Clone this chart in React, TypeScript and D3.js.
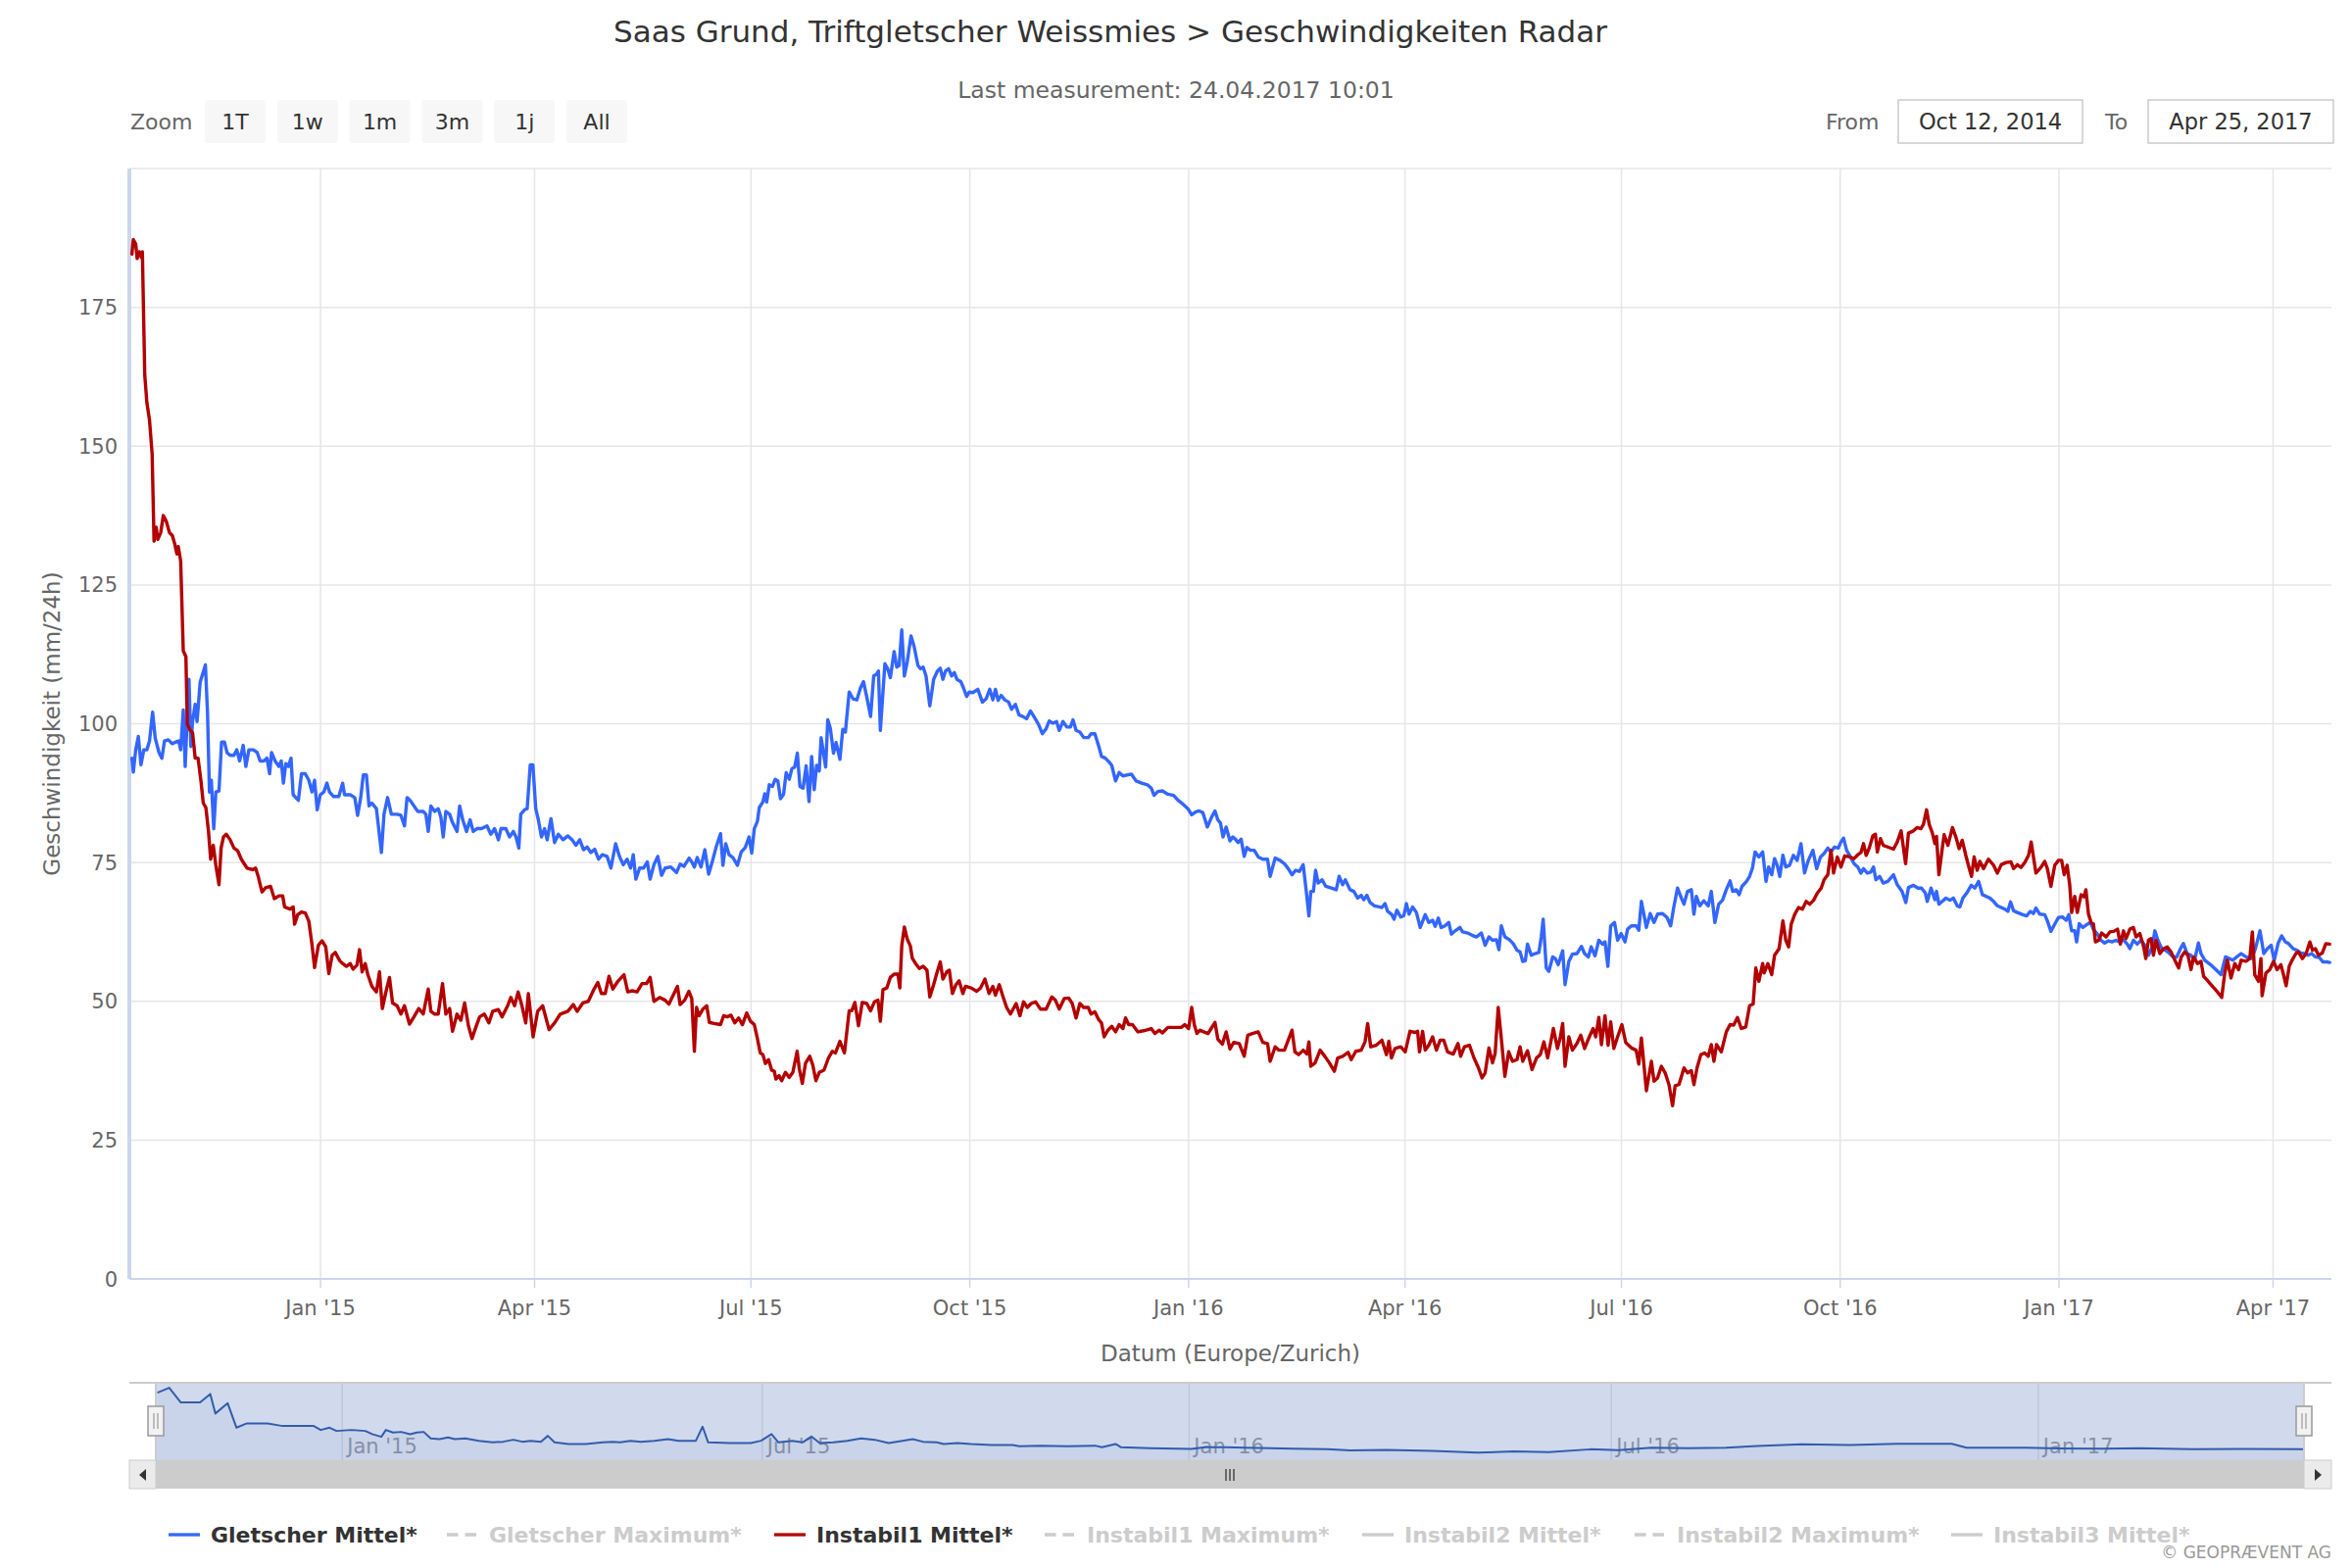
import React from "react";
import * as d3 from "d3";

// ---------- DATA ----------
// x values are days since 2015-01-01 (fractional = time of day), y values in mm/24h
const gletscherMittel: [number, number][] = [
[-79.3,93.8],[-78.7,91.3],[-77.7,95.3],[-76.6,97.7],[-75.5,92.6],[-74.3,95.3],[-73.0,95.3],[-71.9,96.9],[-70.6,102.1],[-69.5,97.4],[-67.9,94.8],[-66.7,93.8],[-65.6,96.9],[-64.0,97.1],[-62.4,96.4],[-60.9,96.7],[-59.6,96.9],[-58.8,95.3],[-57.7,102.5],[-56.9,92.3],[-56.1,100.4],[-55.3,108.0],[-54.5,95.9],[-53.8,100.4],[-52.7,103.5],[-51.9,100.4],[-50.6,107.5],[-49.3,109.3],[-48.4,110.6],[-47.5,101.9],[-46.7,87.7],[-45.9,89.8],[-44.9,81.1],[-44.0,87.7],[-42.7,87.9],[-41.6,96.7],[-40.4,96.7],[-39.3,94.8],[-38.0,94.3],[-36.4,94.3],[-35.2,95.3],[-34.0,93.3],[-32.5,96.1],[-31.4,92.3],[-30.1,95.3],[-28.2,95.3],[-26.6,94.8],[-25.4,93.3],[-23.8,93.3],[-22.5,93.8],[-21.4,91.0],[-20.6,94.8],[-19.1,93.3],[-17.5,92.3],[-16.5,93.3],[-15.6,89.3],[-14.6,92.8],[-13.5,92.3],[-12.4,93.8],[-11.5,87.2],[-10.4,86.7],[-9.3,86.2],[-8.0,91.0],[-6.4,91.0],[-4.9,89.8],[-3.6,87.7],[-2.5,89.8],[-1.4,84.5],[-0.1,87.2],[1.4,87.7],[2.7,89.3],[3.8,87.7],[5.4,86.9],[7.7,86.9],[9.3,89.3],[10.1,87.2],[12.5,87.2],[14.4,86.7],[15.6,83.5],[16.9,86.7],[18.0,90.8],[19.3,90.8],[20.4,85.2],[21.6,85.7],[23.5,84.7],[24.6,80.6],[25.6,76.8],[26.7,83.7],[28.2,86.7],[29.8,83.7],[32.2,83.7],[33.8,83.5],[35.3,81.6],[36.4,86.7],[37.7,86.2],[39.3,85.2],[40.9,84.2],[43.2,84.2],[44.3,83.7],[45.3,80.6],[46.4,85.2],[48.0,84.2],[49.5,84.7],[50.6,83.2],[51.6,79.6],[52.7,84.2],[54.3,83.7],[55.5,82.2],[57.4,80.6],[58.5,85.2],[59.8,82.7],[61.4,80.6],[62.9,82.7],[64.2,80.6],[65.8,81.1],[67.7,81.1],[70.0,81.6],[71.6,80.1],[73.2,81.1],[74.8,79.1],[75.9,81.1],[77.9,81.1],[79.5,79.6],[81.1,80.6],[82.2,79.6],[83.4,77.6],[84.2,83.7],[85.8,84.5],[86.9,84.7],[88.2,92.6],[89.3,92.6],[90.5,84.7],[91.6,82.7],[92.9,79.6],[94.2,81.1],[95.3,79.1],[96.9,82.9],[98.4,78.6],[100.0,80.1],[102.0,79.1],[104.0,79.8],[105.8,79.1],[107.4,78.1],[109.0,79.1],[110.6,77.3],[112.1,77.8],[113.7,76.8],[115.3,77.4],[116.9,75.6],[118.5,76.4],[120.5,76.1],[122.1,74.0],[124.1,78.4],[125.7,76.1],[127.3,74.6],[128.9,75.6],[130.4,74.0],[131.5,76.4],[132.6,72.0],[134.2,74.0],[135.8,74.0],[137.4,75.1],[138.6,72.0],[140.2,74.6],[141.8,76.1],[143.4,72.7],[144.9,74.0],[147.3,74.2],[149.7,73.2],[151.2,74.7],[152.8,74.3],
[155.0,75.8],[156.1,75.1],[157.2,74.2],[158.4,75.9],[160.0,74.2],[161.6,77.3],[163.2,72.9],[164.7,75.1],[166.3,77.7],[168.2,80.2],[169.2,74.5],[170.4,78.4],[171.8,76.4],[173.4,75.9],[175.3,74.5],[176.9,76.9],[178.6,77.7],[180.2,79.6],[181.3,76.7],[182.4,81.1],[183.7,82.4],[184.5,84.9],[186.0,85.9],[186.8,87.4],[187.6,85.9],[188.7,89.0],[190.0,88.7],[191.2,90.0],[192.3,89.7],[193.4,86.5],[194.7,87.3],[195.8,91.2],[197.1,90.0],[198.2,91.9],[199.4,92.2],[200.5,94.7],[201.6,88.7],[202.9,88.4],[204.2,92.4],[205.4,86.0],[206.5,94.1],[207.6,88.1],[208.6,92.5],[209.7,91.5],[210.5,97.5],[212.4,92.2],[213.3,100.7],[214.4,99.1],[215.7,94.7],[216.8,96.6],[218.4,93.6],[219.6,99.0],[220.7,98.5],[222.3,105.7],[223.9,104.5],[225.5,104.3],[227.0,106.4],[228.3,107.6],[229.7,104.8],[231.3,101.3],[232.6,108.6],[233.8,108.9],[234.6,109.5],[235.4,98.8],[237.3,110.8],[238.5,109.9],[239.6,108.3],[241.2,113.0],[242.3,110.2],[243.3,110.5],[244.4,116.9],[245.5,108.6],[246.7,111.1],[248.3,115.8],[249.6,113.9],[251.2,110.5],[252.3,109.9],[253.4,110.2],[254.6,108.6],[256.2,103.2],[257.8,108.0],[259.4,109.5],[260.6,110.0],[261.7,108.0],[262.8,109.5],[264.1,109.9],[265.4,108.6],[266.5,109.2],[267.6,108.0],[269.2,107.6],[270.4,106.4],[271.7,104.9],[272.8,105.7],[274.3,105.6],[276.4,106.2],[278.3,103.9],[279.9,104.5],[281.4,106.2],[282.7,104.3],[283.8,106.2],[284.9,104.2],[286.2,105.1],[287.7,104.3],[289.3,103.9],[290.6,102.6],[292.2,103.5],[293.7,101.6],[295.3,101.3],[296.9,100.9],[298.5,102.3],[300.4,101.0],[302.0,99.8],[303.5,98.2],[305.1,99.1],[306.4,100.5],[307.9,100.1],[309.5,100.4],[310.6,98.8],[312.2,100.4],[313.8,99.4],[315.3,99.4],[316.4,100.7],[317.7,98.8],[319.3,98.5],[320.9,97.5],[322.8,97.5],[324.0,98.2],[325.6,98.2],[327.2,96.0],[328.4,94.1],[330.0,93.8],[331.6,93.1],[332.7,92.5],[334.3,89.7],[335.8,91.2],[337.4,90.6],[339.5,90.8],[341.0,90.9],[342.9,89.7],[345.3,89.3],[347.7,89.0],[349.3,88.4],[350.5,87.1],[352.1,87.8],[354.0,87.9],[356.3,87.3],[358.7,87.1],[360.6,86.2],[362.7,85.5],[364.7,84.7],[366.3,83.6],[367.9,84.1],[369.4,84.3],[371.0,84.0],[372.9,81.4],[374.5,83.0],[376.1,84.3],[377.3,82.7],[378.4,82.1],[379.5,79.6],[380.8,81.4],[382.4,78.9],[383.6,79.6],[384.7,79.2],[385.8,78.6],[387.1,79.2],[388.4,76.1],[389.5,77.7],[391.0,77.2],[392.6,77.2],
[394.3,76.0],[396.2,75.6],[398.2,75.6],[399.3,72.5],[401.4,75.8],[403.4,75.4],[405.3,74.8],[406.9,73.9],[408.5,72.8],[410.0,73.6],[411.6,73.4],[413.2,74.6],[414.5,69.8],[415.6,65.4],[416.4,69.8],[417.5,69.8],[418.4,73.6],[419.5,71.3],[421.1,71.9],[422.7,70.7],[425.0,70.4],[427.1,70.1],[428.3,72.5],[429.8,71.0],[430.9,71.9],[432.9,70.1],[434.5,69.8],[436.1,68.6],[437.6,69.1],[438.7,68.3],[440.0,69.1],[441.3,67.8],[443.2,67.2],[445.1,67.0],[446.3,66.9],[447.6,67.6],[448.7,66.2],[450.3,65.7],[451.4,64.8],[452.6,66.4],[454.2,65.2],[455.5,65.4],[456.6,67.6],[457.7,65.7],[459.2,67.0],[460.8,66.0],[462.4,63.3],[464.5,65.6],[466.0,64.2],[467.6,64.6],[468.7,63.5],[470.0,65.0],[471.2,63.3],[472.8,63.6],[474.4,64.2],[475.5,62.1],[477.1,62.7],[479.1,63.3],[480.2,62.5],[482.3,62.3],[484.2,61.9],[486.1,61.6],[488.1,62.3],[489.7,60.1],[491.3,61.6],[492.8,61.0],[494.4,61.1],[495.5,59.3],[496.5,63.6],[498.0,61.6],[499.9,61.1],[501.5,60.4],[503.1,59.2],[504.4,58.9],[505.5,57.2],[506.6,57.3],[507.5,60.3],[509.1,58.3],[510.7,58.6],[512.3,58.8],[513.3,61.6],[514.1,64.8],[515.4,56.0],[516.5,55.4],[518.1,58.0],[519.2,57.7],[520.4,56.6],[522.3,59.1],[523.3,53.0],[524.9,57.2],[526.4,58.5],[528.3,58.6],[530.2,59.9],[531.5,58.6],[533.1,58.0],[534.3,59.8],[535.9,58.2],[537.5,61.0],[539.0,60.3],[540.1,60.7],[541.3,56.3],[542.5,63.6],[544.1,64.2],[545.4,61.0],[546.9,62.2],[548.5,60.7],[549.6,63.0],[551.2,63.6],[553.2,63.6],[554.3,62.8],[555.4,68.0],[557.5,63.3],[559.1,65.8],[560.7,64.2],[562.2,65.7],[564.3,65.8],[566.2,65.1],[567.7,63.6],[569.0,66.9],[570.6,70.4],[572.2,68.6],[573.3,67.5],[574.8,69.8],[576.4,70.1],[577.5,65.7],[578.5,68.9],[580.0,67.2],[581.6,68.1],[583.5,67.2],[584.8,69.8],[586.3,64.2],[587.9,67.5],[589.5,68.2],[591.1,70.1],[592.7,71.7],[593.8,69.8],[595.3,70.1],[596.5,69.2],[597.7,70.7],[599.6,71.6],[600.9,72.5],[602.1,74.0],[603.2,76.9],[604.8,76.0],[606.4,76.9],
[607.8,71.6],[608.9,74.2],[610.2,72.8],[611.4,75.7],[612.5,74.5],[613.6,72.5],[614.9,76.3],[616.1,74.2],[617.7,74.5],[619.3,76.3],[620.9,75.4],[622.5,78.4],[624.0,73.1],[625.6,75.4],[627.5,77.2],[629.1,73.9],[630.7,76.0],[632.2,76.6],[633.8,77.6],[635.1,76.9],[636.6,77.8],[638.2,77.6],[639.3,78.7],[640.4,79.4],[641.7,77.2],[643.3,76.0],[644.8,74.8],[646.4,74.2],[647.7,73.1],[648.8,73.9],[650.4,73.1],[651.9,73.3],[653.0,74.2],[654.0,71.9],[655.6,72.5],[657.1,71.3],[659.0,71.6],[661.4,72.8],[663.0,71.0],[665.0,69.8],[666.6,67.8],[667.7,70.5],[669.8,70.9],[671.7,70.4],[673.2,70.4],[674.8,69.5],[675.6,68.0],[677.2,70.4],[678.8,68.3],[679.5,69.8],[680.5,67.5],[681.9,68.0],[683.5,68.6],[685.1,68.2],[686.6,68.6],[688.2,67.2],[689.3,67.0],[690.6,68.6],[692.2,69.5],[694.1,70.9],[695.6,70.4],[697.2,71.6],[698.8,69.2],[700.4,68.9],[701.9,68.6],[703.5,68.0],[705.1,67.2],[706.7,66.9],[708.2,66.6],[709.5,66.2],[710.6,67.9],[711.9,66.3],[713.5,66.0],[715.8,65.6],[717.4,65.4],[719.0,66.2],[720.2,65.8],[721.3,66.8],[722.9,65.7],[725.0,65.6],[726.1,64.5],[727.6,62.6],[729.2,63.9],[730.8,65.1],[732.4,65.2],[734.0,64.6],[735.1,65.6],[736.3,62.7],[737.6,62.7],[738.4,60.7],[739.5,64.0],[741.0,63.3],[742.6,63.8],[744.2,64.2],[745.5,62.9],[747.0,62.2],[748.6,61.0],[750.2,60.5],[751.8,60.9],[753.3,60.7],[754.9,61.0],[756.5,60.7],[758.1,61.1],[759.7,60.3],[760.8,59.5],[762.3,61.0],[763.9,60.3],[765.5,61.0],[767.1,60.1],[768.6,58.3],[770.2,59.8],[771.3,62.7],[772.6,61.0],[774.2,59.5],[775.7,59.2],[777.3,58.7],[778.9,58.0],[780.5,58.0],[782.1,59.5],[783.3,60.4],[784.9,58.6],[786.5,58.3],[788.0,57.4],[789.6,60.5],[790.7,58.6],[792.3,57.4],[794.7,56.6],[797.0,55.7],[799.1,54.8],[801.0,58.0],[802.6,57.7],[804.1,57.4],[805.7,58.0],[807.6,58.6],[809.6,58.0],[812.0,57.7],[813.6,59.5],[815.5,62.7],[817.1,58.6],[818.6,59.5],[820.2,60.1],[821.5,57.4],[823.1,60.4],[824.6,61.8],[826.2,60.7],[827.5,60.4],[829.4,59.5],[831.0,59.2],[832.5,58.7],[834.1,58.6],[835.7,58.3],[837.2,58.6],[838.8,58.0],[840.4,57.9],[842.0,57.1],[843.6,57.1],[844.8,57.0]
];

const instabil1Mittel: [number, number][] = [
[-79.3,184.6],[-78.7,187.2],[-77.7,186.4],[-77.1,183.8],[-76.2,185.0],[-75.2,183.9],[-74.9,185.0],[-73.9,162.8],[-73.0,157.8],[-71.9,154.7],[-70.8,148.6],[-70.0,132.9],[-69.1,135.4],[-68.4,133.2],[-67.2,134.4],[-66.1,137.5],[-64.8,136.4],[-63.5,134.4],[-62.3,133.9],[-61.3,132.4],[-60.4,130.6],[-59.8,131.9],[-58.8,129.3],[-57.7,113.1],[-56.6,112.1],[-56.0,99.9],[-54.9,98.9],[-53.8,98.4],[-52.7,93.8],[-51.5,93.8],[-50.3,89.8],[-49.3,85.7],[-48.2,84.9],[-47.1,80.6],[-46.2,75.6],[-45.1,78.1],[-44.0,74.5],[-42.7,71.0],[-41.8,77.6],[-40.8,79.6],[-39.6,80.1],[-38.0,79.1],[-36.4,77.6],[-34.8,77.1],[-33.3,75.6],[-30.9,74.0],[-28.5,73.7],[-27.3,74.0],[-26.2,72.5],[-24.6,69.7],[-23.0,70.5],[-21.0,70.7],[-19.4,68.5],[-17.5,69.0],[-15.9,69.0],[-15.1,67.0],[-12.8,66.6],[-11.5,67.0],[-10.9,63.9],[-9.6,65.6],[-8.0,66.1],[-6.4,65.9],[-4.9,64.4],[-3.6,60.3],[-2.5,56.1],[-0.9,60.1],
[0.65,60.9],[2.2,59.8],[3.5,55.0],[4.9,58.3],[6.2,58.8],[8.1,57.3],[9.3,56.8],[10.9,56.3],[12.5,56.8],[13.7,55.8],[15.3,56.5],[16.4,59.3],[17.5,55.3],[18.8,56.8],[19.9,54.8],[21.6,52.7],[23.5,51.7],[24.8,55.3],[26.0,48.7],[27.5,51.7],[29.0,54.3],[30.3,49.7],[32.2,49.2],[33.8,47.7],[35.3,49.2],[37.4,45.9],[39.3,47.2],[41.3,48.7],[43.2,47.7],[45.3,52.2],[46.4,48.2],[48.0,47.7],[49.5,47.7],[51.3,53.2],[52.7,47.7],[54.3,48.7],[55.5,44.6],[57.4,47.7],[59.0,46.6],[60.6,49.7],[62.2,45.6],[63.7,43.3],[65.3,45.3],[66.9,47.2],[68.9,47.7],[70.8,46.1],[72.4,48.2],[74.8,48.5],[76.3,47.2],[78.7,49.2],[80.0,50.7],[81.6,49.2],[83.1,51.7],[84.7,49.2],[86.3,46.1],[87.4,51.4],[89.4,43.6],[91.3,48.2],[93.4,49.2],[96.1,44.9],[98.4,46.1],[100.8,47.7],[104.0,48.2],[106.3,49.4],[107.9,48.2],[110.3,49.7],[112.6,50.0],[115.0,52.2],[116.6,53.4],[118.1,51.4],[119.7,51.4],[121.3,54.5],[122.9,52.2],[125.2,53.7],[127.6,54.8],[129.2,51.7],[131.1,51.9],[133.1,51.7],[135.2,53.2],[137.1,53.2],[138.6,54.3],[140.2,50.0],[142.6,50.7],[144.9,50.2],[146.5,49.5],[148.4,51.2],[150.1,52.7],[151.2,49.4],[153.1,50.2],
[154.9,51.8],[156.1,50.5],[157.2,41.0],[158.1,48.9],[159.2,47.4],[160.8,48.6],[162.4,49.2],[163.5,46.2],[165.5,46.0],[168.2,45.8],[169.5,47.4],[171.0,47.2],[172.6,47.5],[174.2,46.1],[175.8,47.0],[177.4,45.8],[179.2,47.9],[180.8,46.4],[182.4,45.8],[183.7,43.3],[184.9,40.7],[186.0,40.4],[187.1,38.8],[188.4,39.5],[189.7,37.6],[190.8,37.4],[191.5,36.0],[192.8,36.6],[193.9,35.7],[195.5,37.2],[197.1,36.3],[198.6,37.2],[200.4,41.0],[201.3,37.9],[202.6,35.2],[203.9,38.8],[205.7,40.1],[207.0,38.5],[208.3,35.7],[209.7,37.2],[211.7,37.6],[213.6,39.8],[215.2,41.0],[216.5,40.7],[218.4,42.8],[220.3,40.7],[222.3,48.3],[223.4,48.3],[224.7,49.8],[226.2,45.6],[227.8,49.8],[229.7,49.6],[231.3,48.3],[232.9,49.9],[234.4,50.2],[235.4,46.4],[236.5,52.1],[238.1,52.4],[239.6,54.3],[241.2,54.9],[242.8,54.9],[243.6,52.4],[244.4,60.0],[245.5,63.4],[246.7,61.2],[248.0,60.0],[248.8,57.8],[250.2,56.8],[251.8,55.9],[253.4,56.3],[255.0,55.6],[256.2,50.8],[257.8,53.0],[259.3,55.3],[260.6,57.1],[261.7,54.0],[263.3,55.3],[264.4,55.6],[265.7,51.4],[267.2,53.0],[268.5,53.7],[270.1,51.4],[271.2,52.7],[273.6,52.4],[275.9,51.8],[277.5,52.4],[279.4,54.0],[281.1,51.4],[282.7,52.7],[283.8,51.1],[285.4,53.0],[287.0,50.8],[288.5,48.9],[290.1,47.7],[292.5,49.6],[294.1,47.4],[295.6,49.9],[297.2,48.9],[298.8,49.6],[300.7,49.9],[302.7,48.6],[305.1,48.6],[307.5,50.8],[309.0,50.2],[310.6,48.6],[312.7,50.5],[314.6,50.6],[316.1,49.6],[317.7,47.0],[319.3,49.6],[320.9,48.9],[322.8,48.9],[324.0,47.7],[325.6,48.1],[327.2,46.7],[328.4,46.1],[329.5,43.6],[331.1,44.8],[332.7,45.5],[334.3,44.5],[335.8,45.8],[337.4,45.1],[338.5,47.0],[339.8,45.8],[341.4,45.8],[343.7,44.5],[346.1,44.7],[349.3,45.1],[350.8,44.2],[352.7,44.8],[354.0,44.3],[356.3,45.3],[358.7,45.3],[361.9,45.3],[363.4,45.8],[365.0,45.1],[366.3,48.9],[367.4,45.8],[368.5,44.2],[369.8,44.8],[371.3,44.5],[373.2,44.2],[374.5,45.1],[376.1,46.2],[377.3,43.2],[379.2,42.3],[380.8,44.5],[382.4,41.4],[384.0,42.6],[386.3,42.4],[388.4,40.1],[389.9,43.9],[391.8,44.2],
[394.3,44.5],[396.2,42.6],[398.2,42.4],[399.3,39.2],[401.4,41.8],[403.0,41.2],[405.3,41.2],[406.9,43.0],[408.5,44.8],[409.7,40.9],[411.3,40.4],[413.2,41.2],[414.8,40.5],[415.6,42.7],[416.4,38.3],[418.2,38.9],[420.3,41.2],[422.3,40.1],[424.2,38.9],[426.3,37.4],[427.7,39.8],[429.8,40.1],[432.1,40.8],[433.4,39.5],[435.3,41.0],[437.6,41.2],[439.2,42.7],[440.3,46.0],[441.6,41.8],[443.9,42.1],[446.3,43.0],[448.2,40.4],[449.2,42.8],[450.3,39.8],[451.8,41.5],[454.2,41.8],[456.1,40.9],[458.1,44.6],[460.2,44.4],[461.3,44.6],[462.1,40.9],[463.4,44.6],[464.5,41.2],[466.0,42.1],[467.6,43.6],[469.2,41.2],[470.8,43.0],[472.3,43.0],[473.9,40.9],[476.3,40.5],[478.3,42.4],[479.4,40.1],[481.0,41.8],[483.1,42.1],[485.0,39.8],[486.9,38.0],[488.4,36.2],[489.7,37.1],[491.3,41.6],[492.8,38.9],[493.9,40.6],[495.2,48.9],[496.5,43.3],[498.0,36.5],[499.6,40.9],[501.2,39.2],[503.1,39.5],[504.4,41.8],[505.5,39.2],[507.5,41.1],[509.4,37.7],[511.3,39.8],[512.9,40.4],[514.4,42.7],[516.0,39.8],[518.4,45.1],[520.1,41.5],[521.2,43.3],[522.3,46.0],[523.3,38.3],[524.9,43.6],[526.4,41.2],[528.3,42.4],[529.9,43.9],[531.5,41.5],[533.5,43.6],[535.1,45.1],[536.2,43.6],[537.5,47.1],[538.6,42.2],[540.1,47.4],[541.4,42.1],[542.5,46.3],[543.8,41.5],[545.4,43.6],[547.2,45.8],[548.8,42.6],[551.2,41.6],[553.2,41.2],[554.3,38.7],[555.4,43.4],[557.5,33.9],[559.6,39.2],[560.7,35.6],[562.2,36.2],[563.8,38.3],[565.4,37.1],[567.0,35.0],[568.5,31.2],[569.6,34.8],[571.2,35.0],[573.3,38.0],[574.8,37.1],[576.4,37.5],[577.5,35.0],[578.8,38.0],[580.4,40.4],[582.0,40.7],[583.5,40.1],[584.8,42.2],[585.9,39.2],[587.0,42.2],[589.0,40.9],[591.1,44.5],[592.7,45.8],[594.2,45.7],[595.8,47.1],[597.4,45.1],[599.3,45.4],[600.9,49.2],[602.4,49.5],[603.5,56.0],[604.8,53.6],[606.4,56.8],
[607.0,55.1],[608.6,56.8],[610.2,54.8],[611.4,58.3],[613.3,59.5],[614.9,64.5],[616.1,61.0],[617.3,59.8],[618.4,63.9],[619.9,65.7],[621.5,66.9],[623.1,66.6],[624.7,68.0],[626.2,67.5],[627.8,68.2],[629.4,69.5],[631.0,70.4],[632.2,71.9],[633.8,72.8],[635.1,77.2],[636.2,73.1],[637.8,76.0],[639.3,74.2],[640.9,76.2],[643.0,76.0],[644.8,75.7],[646.4,76.4],[647.7,76.8],[648.8,78.4],[649.9,76.3],[651.2,77.6],[652.7,79.8],[653.8,80.1],[654.6,76.9],[655.9,79.3],[657.1,78.1],[659.0,77.8],[661.4,77.4],[663.0,78.7],[664.6,80.7],[666.5,74.8],[667.7,80.3],[669.8,80.7],[671.3,81.3],[672.9,81.1],[674.0,81.9],[675.3,84.5],[676.4,81.9],[677.7,80.4],[678.8,78.4],[679.5,79.7],[680.5,72.8],[681.9,77.5],[682.7,80.0],[684.3,78.1],[686.2,81.3],[687.7,79.5],[689.0,77.5],[690.3,79.0],[691.8,76.3],[692.9,74.5],[694.2,72.5],[695.3,76.0],[696.6,73.6],[697.7,75.2],[699.3,73.9],[701.3,75.6],[703.5,74.5],[705.1,73.1],[706.7,74.6],[708.7,75.0],[710.8,75.1],[711.9,73.9],[713.5,74.6],[715.0,74.1],[716.6,75.0],[718.2,76.3],[719.3,78.7],[721.3,73.1],[723.4,74.1],[725.0,75.2],[726.1,73.9],[727.6,70.7],[729.2,74.5],[730.8,75.4],[732.1,75.4],[733.2,72.8],[734.4,74.5],[735.5,71.0],[736.3,66.0],[737.6,68.9],[738.7,66.0],[740.3,69.2],[741.5,68.8],[742.3,70.1],[743.4,65.7],[744.5,64.2],[745.5,63.9],[746.3,60.7],[747.7,61.0],[748.9,62.3],[750.8,61.6],[752.4,62.5],[754.0,62.6],[755.6,63.0],[756.8,60.3],[758.1,62.7],[759.2,61.3],[760.8,63.0],[762.3,63.3],[763.4,61.6],[765.0,62.2],[766.6,59.8],[767.5,57.7],[768.6,61.0],[769.7,61.3],[770.7,58.3],[771.8,61.0],[773.4,58.6],[775.0,59.5],[776.5,59.8],[778.1,58.9],[779.7,57.4],[781.3,56.0],[782.4,58.0],[783.9,58.9],[785.2,58.3],[786.5,55.7],[787.6,58.0],[789.2,56.8],[790.7,57.2],[791.8,54.5],[793.1,53.9],[795.5,52.7],[797.8,51.6],[799.4,50.7],[800.7,55.1],[801.8,57.4],[803.3,54.2],[804.9,56.8],[806.5,55.7],[807.6,57.4],[809.6,57.2],[811.2,57.7],[812.3,62.5],[813.3,54.8],[814.9,53.6],[815.9,57.7],[816.4,51.0],[818.0,55.1],[819.6,55.7],[821.2,57.2],[822.7,55.7],[824.3,56.6],[825.4,54.8],[826.5,52.8],[827.8,56.3],[829.0,57.4],[830.6,58.6],[831.7,58.9],[833.3,57.7],[834.9,58.6],[836.5,60.7],[837.6,59.2],[838.8,59.5],[840.1,58.3],[841.7,58.7],[843.2,60.4],[844.8,60.3]
];

// navigator (overview) series
const navigatorSeries: [number, number][] = [
[-79.7,161.9],[-74.6,170.9],[-69.6,143.9],[-61.3,143.9],[-56.9,159.5],[-54.7,123.6],[-49.4,142.6],[-45.6,97.7],[-41.1,105.6],[-32.2,105.6],[-25.7,100.7],[-12.3,100.7],[-9.3,93.5],[-5.5,97.7],[-2.5,91.7],[4.0,93.5],[9.9,91.7],[12.9,85.8],[16.8,80.9],[18.8,93.5],[21.8,88.7],[25.4,89.9],[29.2,85.8],[32.1,88.7],[35.1,89.9],[38.1,77.9],[41.9,76.8],[45.6,79.7],[48.5,76.8],[53.0,77.9],[58.9,73.7],[64.8,70.7],[69.3,71.9],[73.7,75.5],[77.6,71.9],[81.1,73.7],[85.6,71.9],[88.6,82.7],[91.5,70.7],[97.5,67.8],[104.9,67.8],[112.3,70.7],[116.8,71.9],[119.7,70.7],[124.2,73.7],[128.6,71.9],[134.5,73.7],[140.4,76.8],[145.0,73.7],[152.4,73.7],[155.3,99.5],[157.7,70.7],[167.2,69.6],[176.1,69.6],[180.5,73.7],[185.0,85.8],[188.0,70.7],[193.9,73.7],[198.4,70.7],[202.2,81.5],[205.8,69.6],[211.7,70.7],[217.6,73.7],[223.6,77.9],[229.5,75.5],[235.5,69.6],[241.4,73.7],[245.9,76.8],[250.3,71.9],[256.2,70.7],[259.2,67.8],[265.1,69.6],[271.1,67.8],[280.0,66.0],[288.9,66.0],[291.9,63.5],[300.8,64.7],[312.6,63.5],[324.5,64.7],[327.4,61.7],[333.3,67.8],[335.7,61.7],[348.1,59.9],[366.0,58.8],[371.8,61.7],[380.3,61.7],[395.0,60.5],[410.0,59.2],[424.7,58.0],[434.4,56.0],[450.0,57.0],[470.0,55.0],[489.4,52.0],[505.0,54.0],[520.0,53.0],[538.1,58.0],[550.0,56.5],[564.3,61.0],[580.0,60.0],[596.4,61.0],[610.0,64.0],[629.0,67.0],[650.0,66.0],[670.0,68.0],[693.7,68.0],[700.1,61.0],[725.9,61.0],[740.0,59.5],[758.5,59.0],[775.0,60.0],[797.4,58.0],[820.0,58.5],[846.0,58.0]
];

const yTicks = [0, 25, 50, 75, 100, 125, 150, 175, 200];
const xTickDates = ["2015-01-01","2015-04-01","2015-07-01","2015-10-01","2016-01-01","2016-04-01","2016-07-01","2016-10-01","2017-01-01","2017-04-01"];
const xTickLabels = ["Jan '15","Apr '15","Jul '15","Oct '15","Jan '16","Apr '16","Jul '16","Oct '16","Jan '17","Apr '17"];
const navTickDates = ["2015-01-01","2015-07-01","2016-01-01","2016-07-01","2017-01-01"];
const navTickLabels = ["Jan '15","Jul '15","Jan '16","Jul '16","Jan '17"];
const zoomButtons = ["1T", "1w", "1m", "3m", "1j", "All"];
const legendNames = ["Gletscher Mittel*","Gletscher Maximum*","Instabil1 Mittel*","Instabil1 Maximum*","Instabil2 Mittel*","Instabil2 Maximum*","Instabil3 Mittel*"];
const legendVisible = [true, false, true, false, false, false, false];
const legendDashed = [false, true, false, true, false, true, false];

const TITLE = "Saas Grund, Triftgletscher Weissmies > Geschwindigkeiten Radar";
const SUBTITLE = "Last measurement: 24.04.2017 10:01";
const FROM_DATE = "Oct 12, 2014";
const TO_DATE = "Apr 25, 2017";

// ---------- LAYOUT / STYLE ----------
const W = 2400, H = 1600;
const PL = 132, PR = 2379, PT = 172, PB = 1305;
const NL = 159, NR = 2351, NT = 1411, NB = 1490;
const FONT = "'DejaVu Sans', 'Lucida Grande', Verdana, sans-serif";
const BLUE = "#3366ff";
const RED = "#b30000";
const legendX = [172, 456, 790, 1066, 1390, 1668, 1991];
const legendColors = [BLUE, "#cccccc", RED, "#cccccc", "#cccccc", "#cccccc", "#cccccc"];

const DAY0 = Date.UTC(2015, 0, 1);
const toDate = (d: number) => new Date(DAY0 + d * 86400000);
const parse = (s: string) => new Date(s + "T00:00:00Z");

export default function App() {
  const x = d3.scaleUtc()
    .domain([new Date(Date.UTC(2014, 9, 12, 15)), new Date(Date.UTC(2017, 3, 25, 13))])
    .range([PL, PR]);
  const y = d3.scaleLinear().domain([0, 200]).range([PB, PT]);
  const xn = d3.scaleUtc().domain(x.domain()).range([NL, NR]);
  const yn = d3.scaleLinear().domain([38, 180]).range([NB, NT]);

  const line = d3.line<[number, number]>()
    .x(d => x(toDate(d[0])))
    .y(d => y(d[1]));
  const navLine = d3.line<[number, number]>()
    .x(d => xn(toDate(d[0])))
    .y(d => yn(d[1]));
  const navArea = d3.area<[number, number]>()
    .x(d => xn(toDate(d[0])))
    .y0(NB)
    .y1(d => yn(d[1]));

  const btnX0 = 209, btnStep = 73.8, btnW = 62, btnY = 102, btnH = 44;

  return (
    <svg width={W} height={H} viewBox={`0 0 ${W} ${H}`}
      style={{ position: "absolute", left: 0, top: 0, background: "#fff", fontFamily: FONT }}>
      <defs>
        <clipPath id="plotClip">
          <rect x={PL} y={PT - 5} width={PR - PL} height={PB - PT + 5} />
        </clipPath>
        <clipPath id="navClip">
          <rect x={NL} y={NT} width={NR - NL} height={NB - NT} />
        </clipPath>
      </defs>
      <rect x={0} y={0} width={W} height={H} fill="#ffffff" />

      {/* Title & subtitle */}
      <text x={1133} y={43} textAnchor="middle" fontSize={31} fill="#333333">{TITLE}</text>
      <text x={1200} y={100} textAnchor="middle" fontSize={23.5} fill="#666666">{SUBTITLE}</text>

      {/* Range selector */}
      <text x={133} y={132} fontSize={22} fill="#666666">Zoom</text>
      {zoomButtons.map((b, i) => (
        <g key={b}>
          <rect x={btnX0 + i * btnStep} y={btnY} width={btnW} height={btnH} rx={3} fill="#f7f7f7" />
          <text x={btnX0 + i * btnStep + btnW / 2} y={132} textAnchor="middle" fontSize={22} fill="#333333">{b}</text>
        </g>
      ))}
      <text x={1863} y={132} fontSize={22} fill="#666666">From</text>
      <rect x={1937} y={btnY} width={188} height={btnH} fill="#ffffff" stroke="#cccccc" strokeWidth={1.5} />
      <text x={2031} y={132} textAnchor="middle" fontSize={22.5} fill="#333333">{FROM_DATE}</text>
      <text x={2148} y={132} fontSize={22} fill="#666666">To</text>
      <rect x={2192} y={btnY} width={189} height={btnH} fill="#ffffff" stroke="#cccccc" strokeWidth={1.5} />
      <text x={2286.5} y={132} textAnchor="middle" fontSize={22.5} fill="#333333">{TO_DATE}</text>

      {/* Grid */}
      {yTicks.filter(t => t > 0).map(t => (
        <line key={"gy" + t} x1={PL} x2={PR} y1={y(t)} y2={y(t)} stroke="#e6e6e6" strokeWidth={1.5} />
      ))}
      {xTickDates.map(d => (
        <line key={"gx" + d} x1={x(parse(d))} x2={x(parse(d))} y1={PT} y2={PB} stroke="#e6e6e6" strokeWidth={1.5} />
      ))}

      {/* Axes */}
      <rect x={PL - 2} y={PT} width={4} height={PB - PT} fill="#ccd6eb" />
      <line x1={PL} x2={PR} y1={PB} y2={PB} stroke="#ccd6eb" strokeWidth={2} />
      {xTickDates.map((d, i) => (
        <g key={"tx" + d}>
          <line x1={x(parse(d))} x2={x(parse(d))} y1={PB} y2={PB + 9} stroke="#ccd6eb" strokeWidth={1.5} />
          <text x={x(parse(d))} y={1342} textAnchor="middle" fontSize={21} fill="#666666">{xTickLabels[i]}</text>
        </g>
      ))}
      {yTicks.filter(t => t < 200).map(t => (
        <text key={"ty" + t} x={120} y={y(t) + 7.5} textAnchor="end" fontSize={21} fill="#666666">{t}</text>
      ))}
      <text transform={`translate(60.5, ${(PT + PB) / 2}) rotate(-90)`} textAnchor="middle" fontSize={23} fill="#666666">
        Geschwindigkeit (mm/24h)
      </text>
      <text x={(PL + PR) / 2} y={1389} textAnchor="middle" fontSize={23} fill="#666666">Datum (Europe/Zurich)</text>

      {/* Series */}
      <g clipPath="url(#plotClip)">
        <path d={line(gletscherMittel) || ""} fill="none" stroke={BLUE} strokeWidth={3.4} strokeLinejoin="round" strokeLinecap="round" />
        <path d={line(instabil1Mittel) || ""} fill="none" stroke={RED} strokeWidth={3.4} strokeLinejoin="round" strokeLinecap="round" />
      </g>

      {/* Navigator */}
      {navTickDates.map((d, i) => (
        <g key={"nx" + d}>
          <line x1={xn(parse(d))} x2={xn(parse(d))} y1={NT} y2={NB} stroke="#e6e6e6" strokeWidth={1.5} />
          <text x={xn(parse(d)) + 5} y={1483} fontSize={21} fill="#999999">{navTickLabels[i]}</text>
        </g>
      ))}
      <rect x={NL} y={NT} width={NR - NL} height={NB - NT} fill="rgba(102,133,194,0.3)" />
      <g clipPath="url(#navClip)">
        <path d={navArea(navigatorSeries) || ""} fill="#335cad" fillOpacity={0.05} />
        <path d={navLine(navigatorSeries) || ""} fill="none" stroke="#335cad" strokeWidth={2} strokeLinejoin="round" />
      </g>
      <line x1={PL} x2={PR} y1={NT} y2={NT} stroke="#cccccc" strokeWidth={2} />
      <line x1={NL} x2={NL} y1={NT} y2={NB} stroke="#cccccc" strokeWidth={2} />
      <line x1={NR} x2={NR} y1={NT} y2={NB} stroke="#cccccc" strokeWidth={2} />
      {[NL, NR].map(hx => (
        <g key={"h" + hx}>
          <rect x={hx - 8} y={1435} width={16} height={30} fill="#f2f2f2" stroke="#999999" strokeWidth={1.5} />
          <line x1={hx - 2} x2={hx - 2} y1={1442} y2={1458} stroke="#999999" strokeWidth={1.2} />
          <line x1={hx + 2} x2={hx + 2} y1={1442} y2={1458} stroke="#999999" strokeWidth={1.2} />
        </g>
      ))}

      {/* Scrollbar */}
      <rect x={PL} y={NB} width={PR - PL} height={29} fill="#cccccc" />
      <rect x={PL} y={NB} width={NL - PL} height={29} fill="#ebebeb" stroke="#cccccc" strokeWidth={1} />
      <rect x={NR} y={NB} width={PR - NR} height={29} fill="#ebebeb" stroke="#cccccc" strokeWidth={1} />
      <path d="M149,1499 L142,1505 L149,1511 Z" fill="#333333" />
      <path d="M2362,1499 L2369,1505 L2362,1511 Z" fill="#333333" />
      {[-4, 0, 4].map(o => (
        <line key={"g" + o} x1={(NL + NR) / 2 + o} x2={(NL + NR) / 2 + o} y1={1499} y2={1511} stroke="#333333" strokeWidth={1.3} />
      ))}

      {/* Legend */}
      {legendNames.map((n, i) => (
        <g key={n}>
          <line x1={legendX[i]} x2={legendX[i] + 32} y1={1566} y2={1566}
            stroke={legendColors[i]} strokeWidth={3.3}
            strokeDasharray={legendDashed[i] ? "11.5,7" : undefined} />
          <text x={legendX[i] + 43} y={1574} fontSize={22} fontWeight="bold"
            fill={legendVisible[i] ? "#333333" : "#cccccc"}>{n}</text>
        </g>
      ))}
      <text x={PR} y={1590} textAnchor="end" fontSize={17} fill="#999999">© GEOPRÆVENT AG</text>
    </svg>
  );
}
